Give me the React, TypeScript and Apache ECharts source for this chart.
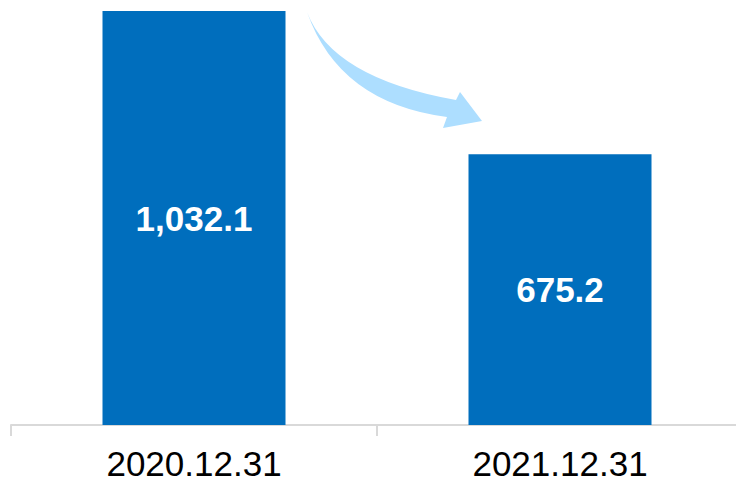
import React, { useEffect, useRef } from "react";
import * as echarts from "echarts";

const categories = ["2020.12.31", "2021.12.31"];
const values = [1032.1, 675.2];
const valueLabels = ["1,032.1", "675.2"];

const arrowPath =
  "M307,12 Q332,78 456,100 L460,92 L482,121 L443,128 L447,117 Q339,103 307,12 Z";

echarts.graphic.registerShape("logo", echarts.graphic.extendPath(arrowPath, {}) as any);

export default function App() {
  const ref = useRef<HTMLDivElement>(null);
  useEffect(() => {
    if (!ref.current) return;
    const chart = echarts.init(ref.current, undefined, { renderer: "svg" });
    chart.setOption({
      animation: false,
      grid: { left: 11, top: 11, width: 732, bottom: 61 },
      xAxis: {
        type: "category",
        data: categories,
        axisLine: { show: true, lineStyle: { color: "#d9d9d9", width: 2 } },
        axisTick: { show: true, length: 11, lineStyle: { color: "#d9d9d9", width: 2 } },
        axisLabel: {
          color: "#000",
          fontSize: 35,
          fontFamily: "Liberation Sans, Arial, sans-serif",
          margin: 21,
        },
      },
      yAxis: { type: "value", show: false, min: 0, max: 1032.1 },
      series: [
        {
          type: "bar",
          data: values,
          barWidth: "50%",
          itemStyle: { color: "#006ebd" },
          label: {
            show: true,
            position: "inside",
            color: "#fff",
            fontWeight: "bold",
            fontSize: 35,
            fontFamily: "Liberation Sans, Arial, sans-serif",
            formatter: (p: any) => valueLabels[p.dataIndex],
          },
        },
      ],
      graphic: [
        {
          type: "logo",
          x: 0,
          y: 0,
          style: { fill: "#addeff" },
        },
      ],
    } as any);
    return () => chart.dispose();
  }, []);
  return (
    <div style={{ position: "fixed", left: 0, top: 0, width: 736, height: 486, overflow: "hidden", background: "#fff" }}>
      <div ref={ref} style={{ width: 760, height: 486 }} />
    </div>
  );
}
